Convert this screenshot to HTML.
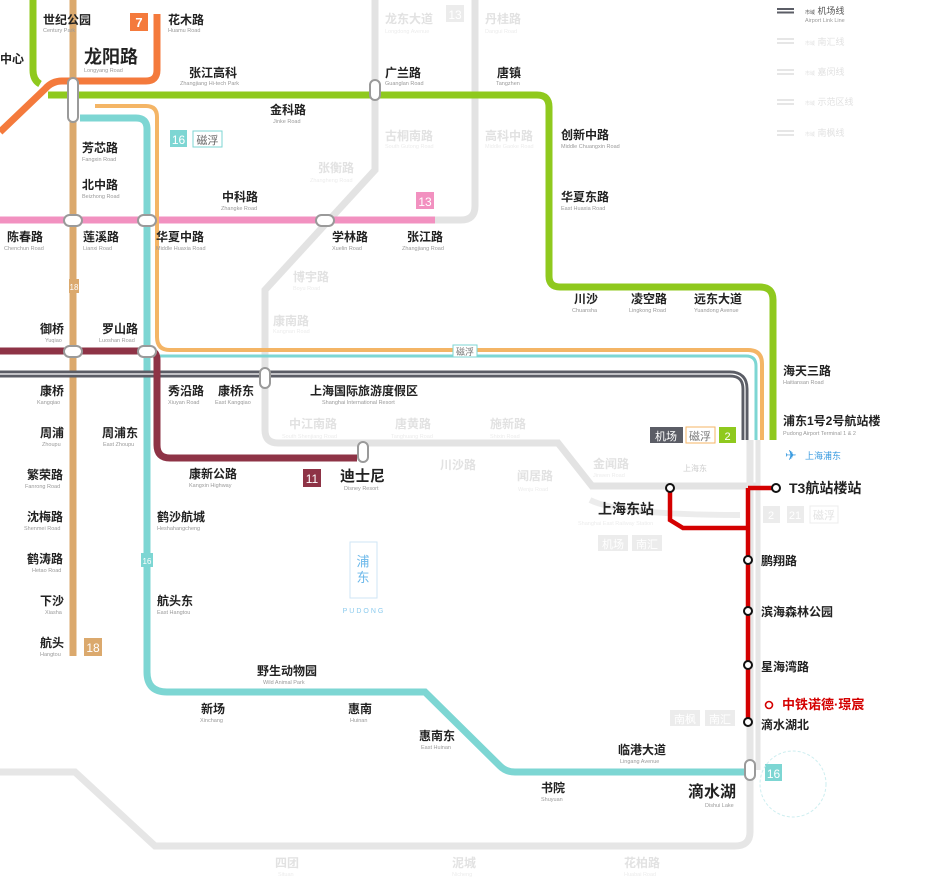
<!DOCTYPE html>
<html><head><meta charset="utf-8"><style>
html,body{margin:0;padding:0;background:#fff;}
svg{display:block;font-family:"Liberation Sans","Noto Sans CJK SC",sans-serif;}
.c{font-size:12px;font-weight:bold;fill:#222;}
.e{font-size:5.5px;fill:#9a9a9a;}
.g{font-size:12px;font-weight:bold;fill:#e2e2e2;}
.ge{font-size:5.5px;fill:#ececec;}
</style></head><body>
<svg width="938" height="878" viewBox="0 0 938 878" xmlns="http://www.w3.org/2000/svg">
<g fill="none" stroke-linecap="butt">
<path d="M375 0 V170 L265 290 V430 Q265 443 278 443 H558 L592 486 H760" stroke="#e3e3e3" stroke-width="7"/>
<path d="M475 0 V206 Q475 220 461 220 H435" stroke="#e3e3e3" stroke-width="7"/>
<path d="M0 772 H75 L155 846 H735 Q750 846 750 832 V440" stroke="#e6e6e6" stroke-width="7"/>
<path d="M758 440 V770" stroke="#e6e6e6" stroke-width="5"/>
<path d="M590 500 Q620 515 740 515" stroke="#ececec" stroke-width="6"/>
<path d="M0 220 H435" stroke="#f291c0" stroke-width="7"/>
<path d="M73 0 V656" stroke="#dba96d" stroke-width="7"/>
<path d="M157 14 V70 Q157 81 146 81 H62 Q52 81 45 89 L0 132" stroke="#f47a3c" stroke-width="7"/>
<path d="M33 0 V70 Q33 80 40 84" stroke="#8fc91e" stroke-width="7"/>
<path d="M48 95 H537 Q549 95 549 107 V276 Q549 287 560 287 H760 Q773 287 773 300 V440" stroke="#8fc91e" stroke-width="7"/>
<path d="M95 106 H146 Q157 106 157 117 V337 Q157 350 170 350 H748 Q762 350 762 364 V440" stroke="#f4b566" stroke-width="4"/>
<path d="M160 356 H746 Q756 356 756 366 V440" stroke="#7dd6d3" stroke-width="3"/>
<path d="M80 118 H136 Q147 118 147 129 V672 Q147 692 167 692 H425 L500 766 Q506 772 515 772 H746" stroke="#7dd6d3" stroke-width="7"/>
<path d="M0 374 H730 Q745 374 745 389 V440" stroke="#5b5d66" stroke-width="7"/>
<path d="M0 374 H730 Q745 374 745 389 V440" stroke="#fff" stroke-width="1.2"/>
<path d="M0 351 H150 Q157 351 157 360 V445 Q157 458 170 458 H357" stroke="#8e3346" stroke-width="7"/>
<path d="M670 488 V520 L683 528 H748 M748 488 V722 M748 488 H776" stroke="#d40000" stroke-width="4.5"/>
</g>
<g fill="#fff" stroke="#9a9a9a" stroke-width="2">
<rect x="68" y="78" width="10" height="44" rx="5"/>
<rect x="64" y="215" width="18" height="11" rx="5.5"/>
<rect x="138" y="215" width="18" height="11" rx="5.5"/>
<rect x="316" y="215" width="18" height="11" rx="5.5"/>
<rect x="64" y="346" width="18" height="11" rx="5.5"/>
<rect x="138" y="346" width="18" height="11" rx="5.5"/>
<rect x="370" y="80" width="10" height="20" rx="5"/>
<rect x="260" y="368" width="10" height="20" rx="5"/>
<rect x="358" y="442" width="10" height="20" rx="5"/>
<rect x="745" y="760" width="10" height="20" rx="5"/>
</g>
<g fill="#fff" stroke="#111" stroke-width="2">
<circle cx="670" cy="488" r="4"/><circle cx="776" cy="488" r="4"/>
<circle cx="748" cy="560" r="4"/><circle cx="748" cy="611" r="4"/>
<circle cx="748" cy="665" r="4"/><circle cx="748" cy="722" r="4"/>
</g>
<circle cx="769" cy="705" r="3.5" fill="none" stroke="#d40000" stroke-width="1.6"/>
<rect x="130" y="13" width="18" height="18" fill="#f47a3c"/><text x="139" y="27" font-size="13" fill="#fff" text-anchor="middle" font-weight="bold">7</text>
<rect x="170" y="130" width="17" height="17" fill="#7dd6d3"/><text x="178.5" y="144" font-size="12" fill="#fff" text-anchor="middle">16</text>
<rect x="193" y="131" width="29" height="16" fill="#fff" stroke="#7dd6d3"/><text x="207.5" y="144" font-size="11" fill="#666" text-anchor="middle">磁浮</text>
<rect x="416" y="192" width="18" height="17" fill="#f291c0"/><text x="425" y="206" font-size="12" fill="#fff" text-anchor="middle">13</text>
<rect x="446" y="5" width="18" height="17" fill="#ececec"/><text x="455" y="19" font-size="12" fill="#fff" text-anchor="middle">13</text>
<rect x="84" y="638" width="18" height="18" fill="#dba96d"/><text x="93" y="652" font-size="12" fill="#fff" text-anchor="middle">18</text>
<rect x="69" y="279" width="10" height="14" fill="#dba96d"/><text x="74" y="290" font-size="8" fill="#fff" text-anchor="middle">18</text>
<rect x="141" y="553" width="12" height="14" fill="#7dd6d3"/><text x="147" y="564" font-size="8" fill="#fff" text-anchor="middle">16</text>
<rect x="303" y="469" width="18" height="18" fill="#8e3346"/><text x="312" y="483" font-size="12" fill="#fff" text-anchor="middle">11</text>
<rect x="650" y="427" width="33" height="16" fill="#5b5d66"/><text x="666" y="440" font-size="11" fill="#fff" text-anchor="middle">机场</text>
<rect x="686" y="427" width="29" height="16" fill="#fff" stroke="#f4b566"/><text x="700" y="440" font-size="11" fill="#777" text-anchor="middle">磁浮</text>
<rect x="719" y="427" width="17" height="16" fill="#8fc91e"/><text x="727.5" y="440" font-size="11" fill="#fff" text-anchor="middle">2</text>
<rect x="453" y="345" width="24" height="12" fill="#fff" stroke="#7dd6d3"/><text x="465" y="355" font-size="9" fill="#777" text-anchor="middle">磁浮</text>
<rect x="765" y="764" width="17" height="17" fill="#7dd6d3"/><text x="773.5" y="778" font-size="12" fill="#fff" text-anchor="middle">16</text>
<g fill="#ececec"><rect x="598" y="535" width="30" height="16"/><rect x="632" y="535" width="30" height="16"/><rect x="670" y="710" width="30" height="16"/><rect x="705" y="710" width="30" height="16"/><rect x="763" y="506" width="17" height="17"/><rect x="787" y="506" width="17" height="17"/></g>
<rect x="810" y="506" width="28" height="17" fill="#fff" stroke="#ececec"/>
<g font-size="11" fill="#fff" text-anchor="middle"><text x="613" y="548">机场</text><text x="647" y="548">南汇</text><text x="685" y="723">南枫</text><text x="720" y="723">南汇</text><text x="771" y="519">2</text><text x="795" y="519">21</text></g>
<text x="824" y="519" font-size="11" fill="#e2e2e2" text-anchor="middle">磁浮</text>
<g fill="#5b5d66"><rect x="777" y="8" width="17" height="2"/><rect x="777" y="11.5" width="17" height="2"/></g>
<g fill="#e6e6e6"><rect x="777" y="38" width="17" height="2"/><rect x="777" y="42" width="17" height="2"/><rect x="777" y="69" width="17" height="2"/><rect x="777" y="73" width="17" height="2"/><rect x="777" y="99" width="17" height="2"/><rect x="777" y="103" width="17" height="2"/><rect x="777" y="130" width="17" height="2"/><rect x="777" y="134" width="17" height="2"/></g>
<text x="805" y="14" font-size="9" fill="#555"><tspan font-size="5">市域</tspan> 机场线</text><text x="805" y="22" class="e">Airport Link Line</text>
<text x="805" y="45" font-size="9" fill="#e2e2e2"><tspan font-size="5">市域</tspan> 南汇线</text>
<text x="805" y="75" font-size="9" fill="#e2e2e2"><tspan font-size="5">市域</tspan> 嘉闵线</text>
<text x="805" y="105" font-size="9" fill="#e2e2e2"><tspan font-size="5">市域</tspan> 示范区线</text>
<text x="805" y="136" font-size="9" fill="#e2e2e2"><tspan font-size="5">市域</tspan> 南枫线</text>
<rect x="350" y="542" width="27" height="56" fill="none" stroke="#cfe6f6"/>
<text x="363" y="566" font-size="13" fill="#6bb8ea" text-anchor="middle">浦</text>
<text x="363" y="582" font-size="13" fill="#6bb8ea" text-anchor="middle">东</text>
<text x="364" y="613" font-size="7" fill="#8ccbee" text-anchor="middle" letter-spacing="2">PUDONG</text>
<text x="785" y="460" font-size="14" fill="#3a9be0">✈</text><text x="805" y="459" font-size="9" fill="#3a9be0">上海浦东</text>
<circle cx="793" cy="784" r="33" fill="none" stroke="#cdeef0" stroke-width="1" stroke-dasharray="3 2"/>
<g class="g">
<text x="385" y="23">龙东大道</text><text x="485" y="23">丹桂路</text><text x="385" y="140">古桐南路</text><text x="485" y="140">高科中路</text>
<text x="318" y="172">张衡路</text><text x="293" y="281">博宇路</text><text x="273" y="325">康南路</text>
<text x="289" y="428">中江南路</text><text x="395" y="428">唐黄路</text><text x="490" y="428">施新路</text>
<text x="440" y="469">川沙路</text><text x="517" y="480">闻居路</text><text x="593" y="468">金闻路</text>
<text x="275" y="867">四团</text><text x="452" y="867">泥城</text><text x="624" y="867">花柏路</text>
</g>
<g class="ge">
<text x="385" y="33">Longdong Avenue</text><text x="485" y="33">Dangui Road</text><text x="385" y="148">South Gutong Road</text><text x="485" y="148">Middle Gaoke Road</text>
<text x="310" y="182">Zhangheng Road</text><text x="293" y="290">Boyu Road</text><text x="273" y="333">Kangnan Road</text>
<text x="282" y="438">South Shenjiang Road</text><text x="391" y="438">Tanghuang Road</text><text x="490" y="438">Shixin Road</text>
<text x="518" y="491">Wenju Road</text><text x="593" y="477">Jinwen Road</text><text x="578" y="525">Shanghai East Railway Station</text>
<text x="278" y="876">Situan</text><text x="452" y="876">Nicheng</text><text x="624" y="876">Huabai Road</text>
</g>
<text x="683" y="471" font-size="8" fill="#ccc">上海东</text>
<g class="c">
<text x="43" y="24">世纪公园</text><text x="168" y="24">花木路</text><text x="0" y="63">中心</text>
<text x="189" y="77">张江高科</text><text x="385" y="77">广兰路</text><text x="497" y="77">唐镇</text>
<text x="270" y="114">金科路</text><text x="561" y="139">创新中路</text><text x="82" y="152">芳芯路</text><text x="82" y="189">北中路</text>
<text x="222" y="201">中科路</text><text x="561" y="201">华夏东路</text>
<text x="7" y="241">陈春路</text><text x="83" y="241">莲溪路</text><text x="156" y="241">华夏中路</text><text x="332" y="241">学林路</text><text x="407" y="241">张江路</text>
<text x="574" y="303">川沙</text><text x="631" y="303">凌空路</text><text x="694" y="303">远东大道</text>
<text x="40" y="333">御桥</text><text x="102" y="333">罗山路</text><text x="783" y="375">海天三路</text>
<text x="40" y="395">康桥</text><text x="168" y="395">秀沿路</text><text x="218" y="395">康桥东</text><text x="310" y="395">上海国际旅游度假区</text>
<text x="40" y="437">周浦</text><text x="102" y="437">周浦东</text><text x="783" y="425">浦东1号2号航站楼</text>
<text x="27" y="479">繁荣路</text><text x="189" y="478">康新公路</text>
<text x="27" y="521">沈梅路</text><text x="157" y="521">鹤沙航城</text>
<text x="27" y="563">鹤涛路</text><text x="40" y="605">下沙</text><text x="157" y="605">航头东</text><text x="40" y="647">航头</text>
<text x="257" y="675">野生动物园</text><text x="201" y="713">新场</text><text x="348" y="713">惠南</text><text x="419" y="740">惠南东</text>
<text x="761" y="565">鹏翔路</text><text x="761" y="616">滨海森林公园</text><text x="761" y="671">星海湾路</text><text x="761" y="729">滴水湖北</text>
<text x="618" y="754">临港大道</text><text x="541" y="792">书院</text>
</g>
<text x="84" y="63" font-size="18" font-weight="bold" fill="#222">龙阳路</text>
<text x="340" y="481" font-size="15" font-weight="bold" fill="#222">迪士尼</text>
<text x="598" y="514" font-size="14" font-weight="bold" fill="#222">上海东站</text>
<text x="789" y="493" font-size="14" font-weight="bold" fill="#222">T3航站楼站</text>
<text x="688" y="797" font-size="16" font-weight="bold" fill="#222">滴水湖</text>
<text x="782" y="709" font-size="13" font-weight="bold" fill="#d40000">中铁诺德·璟宸</text>
<g class="e">
<text x="43" y="32">Century Park</text><text x="168" y="32">Huamu Road</text><text x="84" y="72">Longyang Road</text>
<text x="180" y="85">Zhangjiang Hi-tech Park</text><text x="385" y="85">Guanglan Road</text><text x="496" y="85">Tangzhen</text>
<text x="273" y="123">Jinke Road</text><text x="561" y="148">Middle Chuangxin Road</text><text x="82" y="161">Fangxin Road</text><text x="82" y="198">Beizhong Road</text>
<text x="221" y="210">Zhangke Road</text><text x="561" y="210">East Huaxia Road</text>
<text x="4" y="250">Chenchun Road</text><text x="83" y="250">Lianxi Road</text><text x="156" y="250">Middle Huaxia Road</text><text x="332" y="250">Xuelin Road</text><text x="402" y="250">Zhangjiang Road</text>
<text x="572" y="312">Chuansha</text><text x="629" y="312">Lingkong Road</text><text x="694" y="312">Yuandong Avenue</text>
<text x="45" y="342">Yuqiao</text><text x="99" y="342">Luoshan Road</text><text x="783" y="384">Haitiansan Road</text>
<text x="37" y="404">Kangqiao</text><text x="168" y="404">Xiuyan Road</text><text x="215" y="404">East Kangqiao</text><text x="322" y="404">Shanghai International Resort</text>
<text x="42" y="446">Zhoupu</text><text x="103" y="446">East Zhoupu</text><text x="783" y="435">Pudong Airport Terminal 1 &amp; 2</text>
<text x="25" y="488">Fanrong Road</text><text x="189" y="487">Kangxin Highway</text><text x="344" y="490">Disney Resort</text>
<text x="24" y="530">Shenmei Road</text><text x="157" y="530">Heshahangcheng</text>
<text x="32" y="572">Hetao Road</text><text x="45" y="614">Xiasha</text><text x="157" y="614">East Hangtou</text><text x="40" y="656">Hangtou</text>
<text x="263" y="684">Wild Animal Park</text><text x="200" y="722">Xinchang</text><text x="350" y="722">Huinan</text><text x="421" y="749">East Huinan</text>
<text x="620" y="763">Lingang Avenue</text><text x="541" y="801">Shuyuan</text><text x="705" y="807">Dishui Lake</text>
</g>
</svg>
</body></html>
